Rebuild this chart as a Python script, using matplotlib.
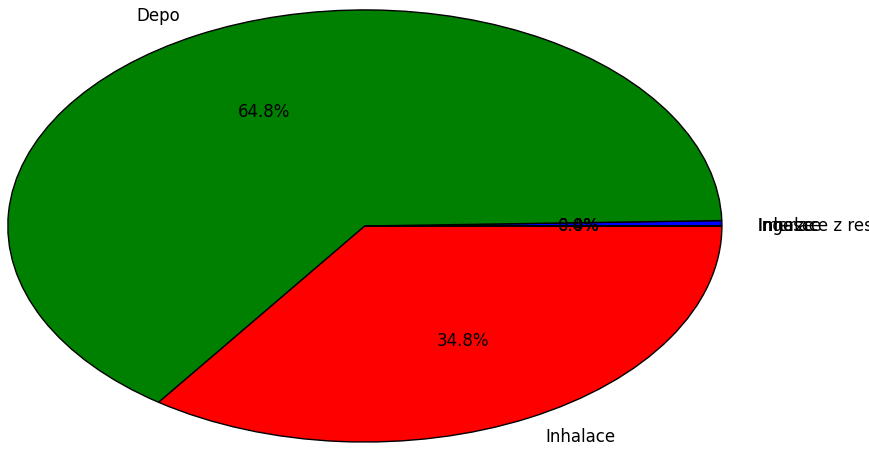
import matplotlib
matplotlib.use('Agg')
import matplotlib.pyplot as plt

# Data
labels = ['Ingesce', 'Depo', 'Inhalace', 'Imerze', 'Inhalace z resuspenze']
values = [0.4, 64.8, 34.8, 0.0, 0.0]
colors = ['b', 'g', 'r', 'c', 'm']

fig = plt.figure(figsize=(8.69, 4.5), dpi=100)
ax = fig.add_axes([0, 0, 1, 1])

wedges, texts, pcts = ax.pie(values, labels=labels, colors=colors, autopct='%1.1f%%',
                             wedgeprops={'edgecolor': 'black', 'linewidth': 1},
                             textprops={'fontsize': 12})

# the tiny slices all share one line on the right, as in the original
for t in [texts[0], pcts[0]]:
    x, y = t.get_position()
    t.set_position((x, 0.0))

# stretched (non-equal aspect) like the old default
ax.set_aspect('auto')
ax.set_xlim(-1.022, 1.412)
ax.set_ylim(-1.037, 1.046)
ax.axis('off')

fig.savefig('out.png', dpi=100)
